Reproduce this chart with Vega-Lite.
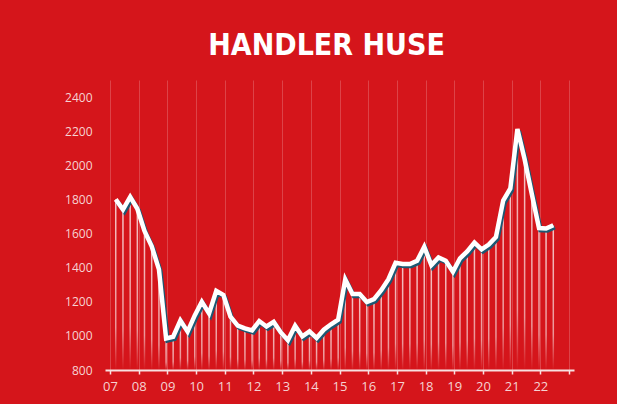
{
  "$schema": "https://vega.github.io/schema/vega-lite/v6.json",
  "width": 469,
  "height": 290,
  "autosize": {"type": "none"},
  "padding": {"left": 105, "top": 80, "right": 43, "bottom": 34},
  "background": "#d5151b",
  "title": {
    "text": "HANDLER HUSE",
    "anchor": "middle",
    "dx": -13,
    "offset": 19,
    "font": "Liberation Sans Narrow, DejaVu Sans Condensed, sans-serif",
    "fontSize": 30,
    "fontWeight": "bold",
    "color": "#ffffff"
  },
  "config": {
    "view": {"stroke": null},
    "axis": {"labelFont": "Open Sans", "labelColor": "#f6d2d2"}
  },
  "data": {
    "values": [
      {"date": "2007-03-15", "value": 1800},
      {"date": "2007-06-15", "value": 1740},
      {"date": "2007-09-15", "value": 1815},
      {"date": "2007-12-15", "value": 1745},
      {"date": "2008-03-15", "value": 1615},
      {"date": "2008-06-15", "value": 1525},
      {"date": "2008-09-15", "value": 1390},
      {"date": "2008-12-15", "value": 985},
      {"date": "2009-03-15", "value": 995},
      {"date": "2009-06-15", "value": 1090},
      {"date": "2009-09-15", "value": 1025},
      {"date": "2009-12-15", "value": 1120},
      {"date": "2010-03-15", "value": 1200},
      {"date": "2010-06-15", "value": 1132},
      {"date": "2010-09-15", "value": 1264},
      {"date": "2010-12-15", "value": 1240},
      {"date": "2011-03-15", "value": 1112},
      {"date": "2011-06-15", "value": 1060},
      {"date": "2011-09-15", "value": 1044},
      {"date": "2011-12-15", "value": 1032},
      {"date": "2012-03-15", "value": 1087},
      {"date": "2012-06-15", "value": 1055},
      {"date": "2012-09-15", "value": 1082},
      {"date": "2012-12-15", "value": 1020},
      {"date": "2013-03-15", "value": 974},
      {"date": "2013-06-15", "value": 1060},
      {"date": "2013-09-15", "value": 997},
      {"date": "2013-12-15", "value": 1026},
      {"date": "2014-03-15", "value": 988},
      {"date": "2014-06-15", "value": 1036},
      {"date": "2014-09-15", "value": 1068},
      {"date": "2014-12-15", "value": 1095},
      {"date": "2015-03-15", "value": 1331},
      {"date": "2015-06-15", "value": 1245},
      {"date": "2015-09-15", "value": 1245},
      {"date": "2015-12-15", "value": 1198},
      {"date": "2016-03-15", "value": 1215},
      {"date": "2016-06-15", "value": 1268},
      {"date": "2016-09-15", "value": 1332},
      {"date": "2016-12-15", "value": 1428},
      {"date": "2017-03-15", "value": 1421},
      {"date": "2017-06-15", "value": 1421},
      {"date": "2017-09-15", "value": 1440},
      {"date": "2017-12-15", "value": 1522},
      {"date": "2018-03-15", "value": 1415},
      {"date": "2018-06-15", "value": 1460},
      {"date": "2018-09-15", "value": 1440},
      {"date": "2018-12-15", "value": 1376},
      {"date": "2019-03-15", "value": 1455},
      {"date": "2019-06-15", "value": 1495},
      {"date": "2019-09-15", "value": 1547},
      {"date": "2019-12-15", "value": 1507},
      {"date": "2020-03-15", "value": 1535},
      {"date": "2020-06-15", "value": 1580},
      {"date": "2020-09-15", "value": 1793},
      {"date": "2020-12-15", "value": 1864},
      {"date": "2021-03-15", "value": 2213},
      {"date": "2021-06-15", "value": 2035},
      {"date": "2021-09-15", "value": 1830},
      {"date": "2021-12-15", "value": 1632},
      {"date": "2022-03-15", "value": 1629},
      {"date": "2022-06-15", "value": 1649}
    ]
  },
  "encoding": {
    "x": {
      "field": "date",
      "type": "temporal",
      "scale": {
        "type": "utc",
        "domain": [
          {"year": 2007, "month": 1, "date": 1, "utc": true},
          {"year": 2023, "month": 1, "date": 1, "utc": true}
        ]
      },
      "axis": {
        "title": null,
        "tickCount": {"interval": "year", "step": 1},
        "labelExpr": "utcyear(datum.value) > 2022 ? '' : utcFormat(datum.value, '%y')",
        "labelFontSize": 13,
        "labelPadding": 6,
        "labelFlush": false,
        "labelOverlap": false,
        "domainColor": "#f7e0e0",
        "domainWidth": 2,
        "tickColor": "#f7e0e0",
        "tickWidth": 1.5,
        "tickSize": 4,
        "grid": true,
        "gridColor": "#ffffff",
        "gridOpacity": 0.2,
        "gridWidth": 1
      }
    },
    "y": {
      "field": "value",
      "type": "quantitative",
      "scale": {"domain": [800, 2500], "nice": false, "zero": false},
      "axis": {
        "title": null,
        "format": "d",
        "values": [800, 1000, 1200, 1400, 1600, 1800, 2000, 2200, 2400],
        "domain": false,
        "ticks": false,
        "grid": false,
        "labelFontSize": 12,
        "labelPadding": 13
      }
    }
  },
  "layer": [
    {
      "mark": {
        "type": "bar",
        "size": 1.5,
        "color": {
          "gradient": "linear",
          "x1": 0, "y1": 0, "x2": 0, "y2": 1,
          "stops": [
            {"offset": 0, "color": "rgba(255,255,255,0.75)"},
            {"offset": 0.75, "color": "rgba(255,255,255,0.55)"},
            {"offset": 1, "color": "rgba(255,255,255,0)"}
          ]
        }
      },
      "encoding": {"y2": {"datum": 800}}
    },
    {
      "mark": {
        "type": "line",
        "stroke": "#1b5873",
        "strokeWidth": 4.5,
        "xOffset": 1.5,
        "yOffset": 2
      }
    },
    {
      "mark": {
        "type": "line",
        "stroke": "#ffffff",
        "strokeWidth": 4.5
      }
    }
  ]
}
